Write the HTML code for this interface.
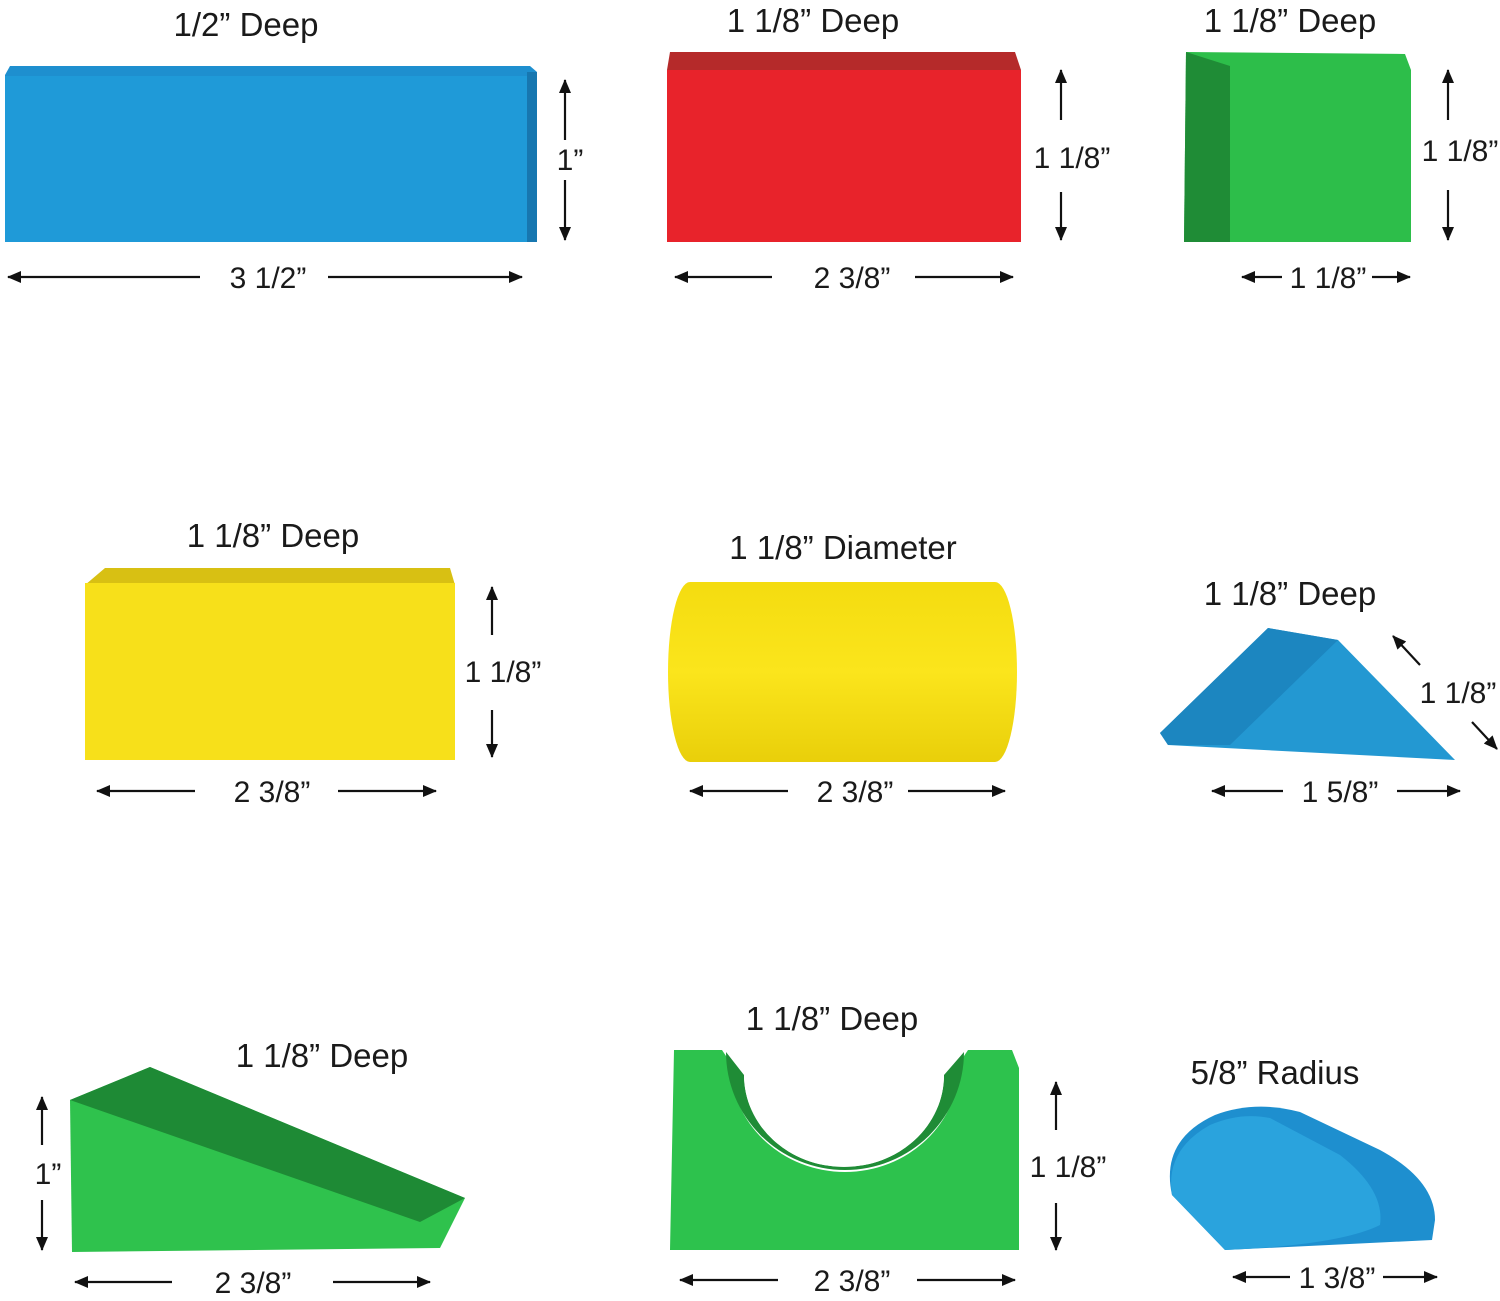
<!DOCTYPE html>
<html><head><meta charset="utf-8"><style>
html,body{margin:0;padding:0;background:#fff;}
svg{display:block;}
text{font-family:"Liberation Sans",sans-serif;fill:#1a1a1a;}
.h{font-size:33px;text-anchor:middle;}
.l{font-size:30px;text-anchor:middle;}
line{stroke:#111;stroke-width:2.2;}
</style></head><body>
<svg width="1500" height="1301" viewBox="0 0 1500 1301" xmlns="http://www.w3.org/2000/svg">
<defs>
<marker id="a" markerWidth="14" markerHeight="12" refX="13" refY="6" orient="auto" markerUnits="userSpaceOnUse">
<path d="M0,0 L14,6 L0,12 Z" fill="#111"/></marker>
<linearGradient id="cyl" x1="0" y1="0" x2="0" y2="1">
<stop offset="0" stop-color="#f4dc10"/><stop offset="0.5" stop-color="#fbe51c"/><stop offset="1" stop-color="#e9cf0a"/></linearGradient>
</defs>

<polygon points="10,66 530,66 537,72 537,236 527,242 5,242 5,75" fill="#1e8fcf"/>
<rect x="5" y="76" width="522" height="166" fill="#1f9ad8"/>
<rect x="527" y="72" width="10" height="170" fill="#1777b0"/>
<text class="h" x="246" y="36">1/2” Deep</text>
<line x1="565" y1="140" x2="565" y2="80" marker-end="url(#a)"/>
<line x1="565" y1="180" x2="565" y2="240" marker-end="url(#a)"/>
<text class="l" x="570" y="170">1”</text>
<line x1="200" y1="277" x2="8" y2="277" marker-end="url(#a)"/>
<line x1="328" y1="277" x2="522" y2="277" marker-end="url(#a)"/>
<text class="l" x="268" y="288">3 1/2”</text>

<polygon points="670,52 1015,52 1021,70 667,70" fill="#b52a2a"/>
<rect x="667" y="70" width="354" height="172" fill="#e8232b"/>
<text class="h" x="813" y="32">1 1/8” Deep</text>
<line x1="1061" y1="120" x2="1061" y2="70" marker-end="url(#a)"/>
<line x1="1061" y1="192" x2="1061" y2="240" marker-end="url(#a)"/>
<text class="l" x="1072" y="168">1 1/8”</text>
<line x1="772" y1="277" x2="675" y2="277" marker-end="url(#a)"/>
<line x1="915" y1="277" x2="1013" y2="277" marker-end="url(#a)"/>
<text class="l" x="852" y="288">2 3/8”</text>

<polygon points="1186,52 1405,54 1411,70 1411,242 1184,242" fill="#2dbe4a"/>
<polygon points="1186,52 1230,66 1230,242 1184,242" fill="#1f8c36"/>
<text class="h" x="1290" y="32">1 1/8” Deep</text>
<line x1="1448" y1="120" x2="1448" y2="70" marker-end="url(#a)"/>
<line x1="1448" y1="190" x2="1448" y2="240" marker-end="url(#a)"/>
<text class="l" x="1460" y="161">1 1/8”</text>
<line x1="1282" y1="277" x2="1242" y2="277" marker-end="url(#a)"/>
<line x1="1372" y1="277" x2="1410" y2="277" marker-end="url(#a)"/>
<text class="l" x="1328" y="288">1 1/8”</text>

<polygon points="105,568 450,568 455,585 85,585" fill="#d8c013"/>
<rect x="85" y="583" width="370" height="177" fill="#f7e01a"/>
<text class="h" x="273" y="547">1 1/8” Deep</text>
<line x1="492" y1="635" x2="492" y2="587" marker-end="url(#a)"/>
<line x1="492" y1="710" x2="492" y2="757" marker-end="url(#a)"/>
<text class="l" x="503" y="682">1 1/8”</text>
<line x1="195" y1="791" x2="97" y2="791" marker-end="url(#a)"/>
<line x1="338" y1="791" x2="436" y2="791" marker-end="url(#a)"/>
<text class="l" x="272" y="802">2 3/8”</text>

<path d="M690,582 L995,582 A22,90 0 0 1 995,762 L690,762 A22,90 0 0 1 690,582 Z" fill="url(#cyl)"/>
<text class="h" x="843" y="559">1 1/8” Diameter</text>
<line x1="788" y1="791" x2="690" y2="791" marker-end="url(#a)"/>
<line x1="908" y1="791" x2="1005" y2="791" marker-end="url(#a)"/>
<text class="l" x="855" y="802">2 3/8”</text>

<polygon points="1160,733 1268,628 1338,640 1455,760 1168,745" fill="#2398d2"/>
<polygon points="1160,733 1268,628 1338,640 1230,745 1168,745" fill="#1c86c0"/>
<text class="h" x="1290" y="605">1 1/8” Deep</text>
<line x1="1420" y1="665" x2="1393" y2="636" marker-end="url(#a)"/>
<line x1="1472" y1="722" x2="1497" y2="749" marker-end="url(#a)"/>
<text class="l" x="1458" y="703">1 1/8”</text>
<line x1="1283" y1="791" x2="1212" y2="791" marker-end="url(#a)"/>
<line x1="1397" y1="791" x2="1460" y2="791" marker-end="url(#a)"/>
<text class="l" x="1340" y="802">1 5/8”</text>

<polygon points="70,1100 150,1067 465,1198 440,1248 72,1252" fill="#2fc24d"/>
<polygon points="70,1100 150,1067 465,1198 420,1222" fill="#1e8a35"/>
<text class="h" x="322" y="1067">1 1/8” Deep</text>
<line x1="42" y1="1145" x2="42" y2="1097" marker-end="url(#a)"/>
<line x1="42" y1="1200" x2="42" y2="1250" marker-end="url(#a)"/>
<text class="l" x="48" y="1184">1”</text>
<line x1="172" y1="1282" x2="75" y2="1282" marker-end="url(#a)"/>
<line x1="333" y1="1282" x2="430" y2="1282" marker-end="url(#a)"/>
<text class="l" x="253" y="1293">2 3/8”</text>

<!-- green arch -->
<path d="M674,1050 L722,1050 L730,1062 A115,110 0 0 0 960,1062 L968,1050 L1012,1050 L1019,1068 L1019,1250 L670,1250 Z" fill="#2dc24d"/>
<path d="M726,1052 A119,118 0 0 0 964,1052 L944,1075 A100,92 0 0 1 744,1075 Z" fill="#1f8c36"/>
<path d="M744,1075 A100,92 0 0 0 944,1075 L944,1058 A100,82 0 0 1 744,1058 Z" fill="#fff"/>
<text class="h" x="832" y="1030">1 1/8” Deep</text>
<line x1="1056" y1="1130" x2="1056" y2="1082" marker-end="url(#a)"/>
<line x1="1056" y1="1203" x2="1056" y2="1250" marker-end="url(#a)"/>
<text class="l" x="1068" y="1177">1 1/8”</text>
<line x1="778" y1="1280" x2="680" y2="1280" marker-end="url(#a)"/>
<line x1="917" y1="1280" x2="1015" y2="1280" marker-end="url(#a)"/>
<text class="l" x="852" y="1291">2 3/8”</text>

<!-- blue half cylinder -->
<path d="M1172,1195 Q1160,1140 1215,1115 Q1255,1100 1300,1112 L1380,1150 Q1435,1180 1435,1220 L1432,1240 L1225,1250 Z" fill="#1e8fcf"/>
<path d="M1172,1195 Q1165,1150 1210,1125 Q1240,1112 1270,1118 L1340,1155 Q1385,1190 1380,1225 Q1340,1245 1225,1250 Z" fill="#2aa3dd"/>
<text class="h" x="1275" y="1084">5/8” Radius</text>
<line x1="1290" y1="1277" x2="1233" y2="1277" marker-end="url(#a)"/>
<line x1="1383" y1="1277" x2="1437" y2="1277" marker-end="url(#a)"/>
<text class="l" x="1337" y="1288">1 3/8”</text>
</svg>
</body></html>
